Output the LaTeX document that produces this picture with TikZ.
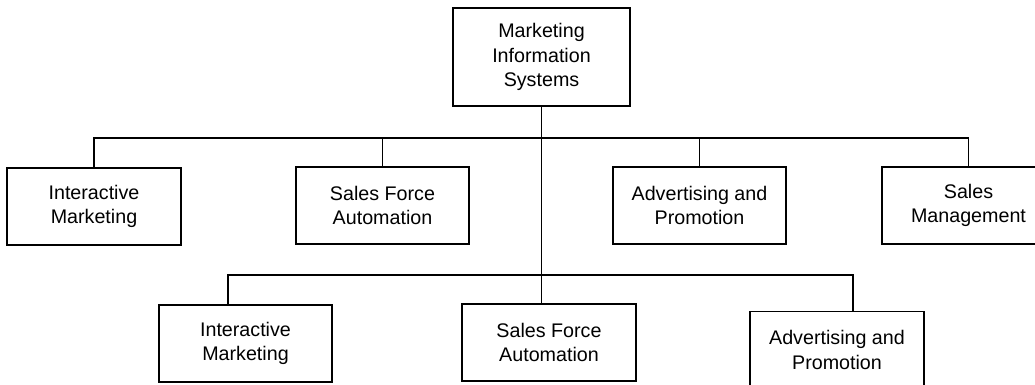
\documentclass[tikz,border=0pt]{standalone}
\usepackage{fontspec}
\setmainfont{Liberation Sans}
\usetikzlibrary{positioning}
\tikzset{
    mybox/.style = {rectangle, draw=black, line width=1.4pt, align=center, minimum width=4.325cm, minimum height=1.925cm, inner sep=0pt, font=\fontsize{14}{17.5}\selectfont, text=black},
    myboxt/.style = {mybox, minimum width=4.425cm, minimum height=2.45cm},
    edgen/.style = {-, line width=1.4pt, black},
}

\begin{document}
\begin{tikzpicture}[x=0.025cm, y=-0.025cm]
  \useasboundingbox (0,0) rectangle (1035,385);
  \clip (0,0) rectangle (1035,385);

  % top
  \node[myboxt] (mis) at (541.5,57) {Marketing\\Information\\Systems};

  % first row
  \node[mybox] (im1) at (94,206.5) {Interactive\\Marketing};
  \node[mybox] (sfa1) at (382.5,205.5) {Sales Force\\Automation};
  \node[mybox] (ap1) at (699.5,205.5) {Advertising and\\Promotion};
  \node[mybox] (sm1) at (968.5,205.5) {Sales\\Management};

  % second row
  \node[mybox] (im2) at (245.5,343.5) {Interactive\\Marketing};
  \node[mybox] (sfa2) at (549,342.5) {Sales Force\\Automation};
  \node[mybox] (ap2) at (837,350) {Advertising and\\Promotion};

  \coordinate (bus1) at (541.5,138);
  \coordinate (drop2a) at (228,275);
  \coordinate (drop2c) at (853,275);

  \draw[edgen] (im1.north) -- (im1.north |- bus1) -- (sm1.north |- bus1) -- (sm1.north);
  \draw[edgen] (sfa1.north) -- (sfa1.north |- bus1);
  \draw[edgen] (ap1.north) -- (ap1.north |- bus1);
  \draw[edgen] (mis.south) -- (mis.south |- sfa2.north);
  \draw[edgen] (im2.north -| drop2a) -- (drop2a) -- (drop2c) -- (ap2.north -| drop2c);
\end{tikzpicture}
\end{document}
